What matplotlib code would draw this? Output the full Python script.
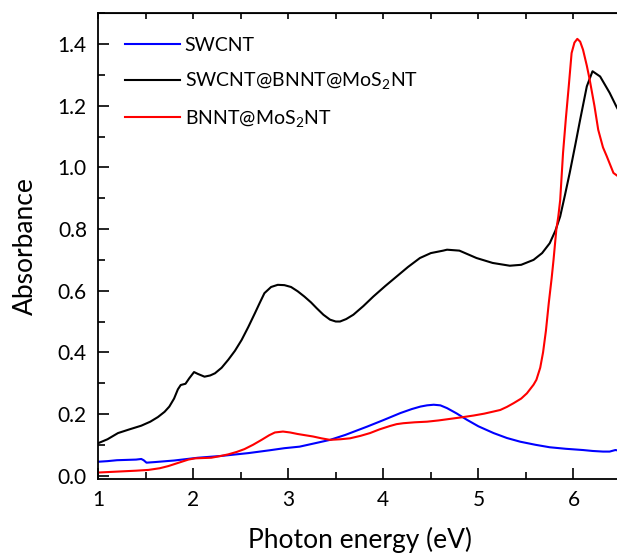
import matplotlib
matplotlib.use("Agg")
import matplotlib.pyplot as plt
from matplotlib.ticker import MultipleLocator

plt.rcParams['font.family'] = ['Lato', 'DejaVu Sans']
plt.rcParams['mathtext.fontset'] = 'custom'
plt.rcParams['mathtext.rm'] = 'Lato'
plt.rcParams['mathtext.it'] = 'Lato:italic'

# photon energy (eV) / absorbance
swcnt_x = [1.00, 1.10, 1.20, 1.30, 1.40, 1.455, 1.48, 1.51, 1.60, 1.80, 2.05, 2.30,
           2.58, 2.80, 2.96, 3.12, 3.31, 3.44, 3.60, 3.83, 4.00, 4.18, 4.30, 4.39,
           4.46, 4.53, 4.60, 4.67, 4.77, 4.88, 5.00, 5.16, 5.30, 5.44, 5.60, 5.75,
           5.92, 6.10, 6.20, 6.31, 6.38, 6.44, 6.50]
swcnt_y = [0.045, 0.047, 0.050, 0.051, 0.052, 0.054, 0.050, 0.042, 0.044, 0.049, 0.058, 0.064,
           0.073, 0.082, 0.089, 0.094, 0.107, 0.116, 0.132, 0.159, 0.180, 0.203, 0.216, 0.224,
           0.228, 0.230, 0.228, 0.219, 0.202, 0.181, 0.160, 0.138, 0.122, 0.110, 0.100, 0.092,
           0.087, 0.083, 0.080, 0.078, 0.078, 0.083, 0.080]

hybrid_x = [1.00, 1.10, 1.21, 1.33, 1.455, 1.55, 1.63, 1.70, 1.75, 1.80, 1.84, 1.87,
            1.92, 1.96, 2.01, 2.05, 2.12, 2.18, 2.23, 2.30, 2.37, 2.44, 2.51, 2.58,
            2.65, 2.70, 2.75, 2.82, 2.89, 2.96, 3.03, 3.10, 3.17, 3.24, 3.30, 3.37,
            3.44, 3.50, 3.545, 3.61, 3.685, 3.79, 3.895, 4.02, 4.14, 4.26, 4.385, 4.50,
            4.63, 4.67, 4.80, 4.98, 5.15, 5.33, 5.45, 5.58, 5.67, 5.75, 5.81, 5.86,
            5.91, 5.96, 6.02, 6.07, 6.14, 6.20, 6.28, 6.38, 6.45, 6.50]
hybrid_y = [0.105, 0.118, 0.138, 0.150, 0.162, 0.175, 0.190, 0.207, 0.224, 0.250, 0.280, 0.294,
            0.298, 0.316, 0.336, 0.330, 0.321, 0.325, 0.332, 0.350, 0.376, 0.405, 0.440, 0.482,
            0.527, 0.560, 0.592, 0.612, 0.619, 0.618, 0.612, 0.598, 0.581, 0.562, 0.543, 0.522,
            0.506, 0.500, 0.500, 0.508, 0.522, 0.550, 0.581, 0.615, 0.646, 0.677, 0.706, 0.722,
            0.730, 0.733, 0.730, 0.706, 0.690, 0.681, 0.684, 0.700, 0.722, 0.754, 0.795, 0.841,
            0.910, 0.982, 1.075, 1.155, 1.263, 1.312, 1.295, 1.242, 1.198, 1.170]

bnnt_x = [1.00, 1.20, 1.40, 1.53, 1.65, 1.74, 1.80, 1.88, 1.95, 2.02, 2.10, 2.19,
          2.28, 2.37, 2.46, 2.54, 2.63, 2.72, 2.80, 2.86, 2.945, 3.02, 3.10, 3.18,
          3.26, 3.35, 3.44, 3.55, 3.65, 3.76, 3.86, 3.96, 4.07, 4.14, 4.21, 4.33,
          4.46, 4.58, 4.70, 4.82, 4.95, 5.06, 5.16, 5.23, 5.30, 5.37, 5.45, 5.51,
          5.58, 5.61, 5.65, 5.68, 5.71, 5.74, 5.77, 5.79, 5.82, 5.84, 5.86, 5.89,
          5.92, 5.95, 5.98, 6.01, 6.04, 6.07, 6.10, 6.14, 6.17, 6.22, 6.26, 6.31,
          6.35, 6.42, 6.46, 6.50]
bnnt_y = [0.010, 0.013, 0.016, 0.0185, 0.024, 0.031, 0.037, 0.045, 0.052, 0.056, 0.057, 0.058,
          0.063, 0.069, 0.077, 0.086, 0.100, 0.116, 0.131, 0.140, 0.143, 0.140, 0.135, 0.131,
          0.127, 0.121, 0.116, 0.118, 0.121, 0.129, 0.138, 0.150, 0.161, 0.167, 0.170, 0.173,
          0.175, 0.179, 0.184, 0.189, 0.195, 0.201, 0.208, 0.213, 0.223, 0.235, 0.250, 0.267,
          0.295, 0.311, 0.350, 0.400, 0.470, 0.560, 0.640, 0.700, 0.800, 0.840, 0.894, 1.047,
          1.160, 1.263, 1.371, 1.405, 1.417, 1.408, 1.382, 1.330, 1.285, 1.200, 1.122, 1.065,
          1.036, 0.982, 0.973, 0.965]

labels = ['SWCNT', 'SWCNT@BNNT@MoS$_2$NT', 'BNNT@MoS$_2$NT']

fig = plt.figure(figsize=(6.17, 5.56), dpi=100)
# axes runs past the right edge of the figure, as in the reference crop
ax = fig.add_axes([98 / 617, 77.3 / 556, 5.5 * 95.1 / 617, 465.4 / 556])

ax.plot(swcnt_x, swcnt_y, color='#0000ff', lw=1.5, label=labels[0])
ax.plot(hybrid_x, hybrid_y, color='black', lw=1.5, label=labels[1])
ax.plot(bnnt_x, bnnt_y, color='#ff0000', lw=1.5, label=labels[2])

ax.set_xlim(1, 6.5)
ax.set_ylim(-0.01, 1.5)
ax.xaxis.set_major_locator(MultipleLocator(1))
ax.xaxis.set_minor_locator(MultipleLocator(0.5))
ax.yaxis.set_major_locator(MultipleLocator(0.2))
ax.yaxis.set_minor_locator(MultipleLocator(0.1))
ax.yaxis.set_major_formatter(lambda v, p: f"{v:.1f}")

for s in ax.spines.values():
    s.set_linewidth(1.3)
ax.tick_params(which='both', direction='in', width=1.2, labelsize=15, top=False)
ax.tick_params(which='major', length=8, pad=8)
ax.tick_params(which='minor', length=5)

top = ax.secondary_xaxis('top')
top.xaxis.set_major_locator(MultipleLocator(1))
top.xaxis.set_minor_locator(MultipleLocator(0.5))
top.tick_params(which='both', direction='in', length=4, width=1.2, labeltop=False)

ax.set_xlabel('Photon energy (eV)', fontsize=19, labelpad=12)
ax.set_ylabel('Absorbance', fontsize=19, labelpad=14)

ax.legend(loc='upper left', bbox_to_anchor=(0.0, 1.008), frameon=False, fontsize=14,
          handlelength=2.8, handletextpad=0.25, labelspacing=0.85, borderaxespad=1.0)

fig.savefig('out.png', dpi=100)
